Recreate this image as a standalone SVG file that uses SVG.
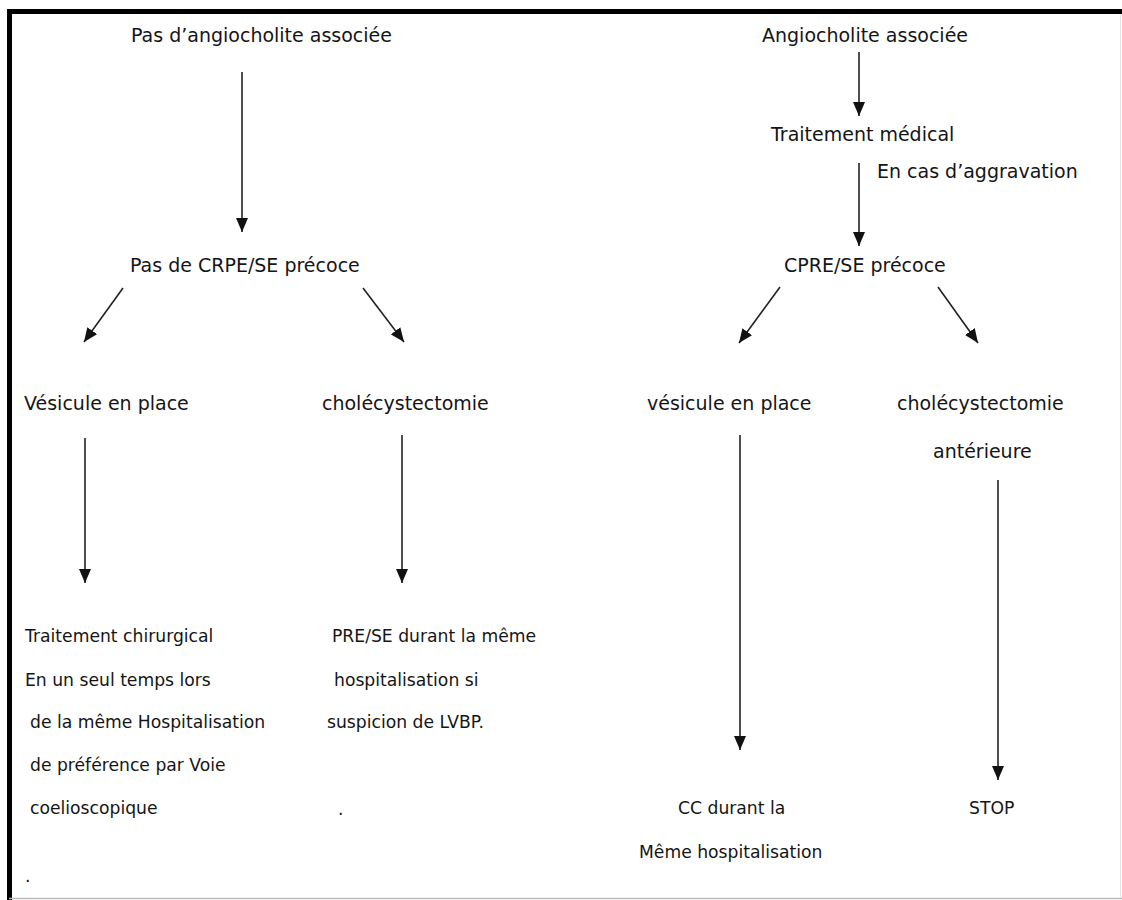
<svg xmlns="http://www.w3.org/2000/svg" width="1122" height="900" viewBox="0 0 1122 900">
  <defs>
    <marker id="ah" markerUnits="userSpaceOnUse" markerWidth="14" markerHeight="12" refX="14" refY="6" orient="auto">
      <path d="M0,0 L14,6 L0,12 z" fill="#111"/>
    </marker>
    <style>
      text { font-family: "DejaVu Sans", "Liberation Sans", sans-serif; font-size: 19px; fill: #151515; }
      text.s { font-size: 17.2px; }
      .c { stroke: #222; stroke-width: 1.6; fill: none; marker-end: url(#ah); }
    </style>
  </defs>
  <rect x="0" y="0" width="1122" height="900" fill="#fff"/>
  <g id="frame">
    <line x1="7" y1="11.5" x2="1122" y2="11.5" stroke="#000" stroke-width="5"/>
    <line x1="9.5" y1="9" x2="9.5" y2="900" stroke="#000" stroke-width="5"/>
    <line x1="9" y1="898.5" x2="1122" y2="898.5" stroke="#bbb" stroke-width="1.5"/>
    <line x1="1120.5" y1="14" x2="1120.5" y2="898" stroke="#e4e4e4" stroke-width="1"/>
  </g>
  <g id="connectors">
    <line class="c" x1="242" y1="72" x2="242" y2="232"/>
    <line class="c" x1="123" y1="288" x2="84" y2="342"/>
    <line class="c" x1="363" y1="288" x2="404" y2="342"/>
    <line class="c" x1="85" y1="438" x2="85" y2="583"/>
    <line class="c" x1="402" y1="435" x2="402" y2="583"/>
    <line class="c" x1="859" y1="52" x2="859" y2="116"/>
    <line class="c" x1="859" y1="163" x2="859" y2="246"/>
    <line class="c" x1="780" y1="287" x2="739" y2="343"/>
    <line class="c" x1="938" y1="287" x2="978" y2="343"/>
    <line class="c" x1="740" y1="435" x2="740" y2="750"/>
    <line class="c" x1="998" y1="480" x2="998" y2="780"/>
  </g>
  <g id="n-pas-angio"><text x="131" y="42">Pas d’angiocholite associée</text></g>
  <g id="n-pas-cpre"><text x="130" y="272">Pas de CRPE/SE précoce</text></g>
  <g id="n-vesicule-l"><text x="24" y="410">Vésicule en place</text></g>
  <g id="n-chole-l"><text x="322" y="410">cholécystectomie</text></g>
  <g id="n-trait-chir">
    <text class="s" x="25" y="642">Traitement chirurgical</text>
    <text class="s" x="25" y="686">En un seul temps lors</text>
    <text class="s" x="30" y="728">de la même Hospitalisation</text>
    <text class="s" x="30" y="771">de préférence par Voie</text>
    <text class="s" x="30" y="814">coelioscopique</text>
  </g>
  <g id="n-pre-se">
    <text class="s" x="332" y="642">PRE/SE durant la même</text>
    <text class="s" x="334" y="686">hospitalisation si</text>
    <text class="s" x="327" y="728">suspicion de LVBP.</text>
    <text class="s" x="338" y="815">.</text>
  </g>
  <g id="n-dot"><text class="s" x="25" y="882">.</text></g>
  <g id="n-angio"><text x="762" y="42">Angiocholite associée</text></g>
  <g id="n-trait-med"><text x="771" y="141">Traitement médical</text></g>
  <g id="n-aggrav"><text x="877" y="178">En cas d’aggravation</text></g>
  <g id="n-cpre"><text x="784" y="272">CPRE/SE précoce</text></g>
  <g id="n-vesicule-r"><text x="647" y="410">vésicule en place</text></g>
  <g id="n-chole-r">
    <text x="897" y="410">cholécystectomie</text>
    <text x="933" y="458">antérieure</text>
  </g>
  <g id="n-cc"><text class="s" x="678" y="814">CC durant la</text><text class="s" x="639" y="858">Même hospitalisation</text></g>
  <g id="n-stop"><text class="s" x="969" y="814">STOP</text></g>
</svg>
